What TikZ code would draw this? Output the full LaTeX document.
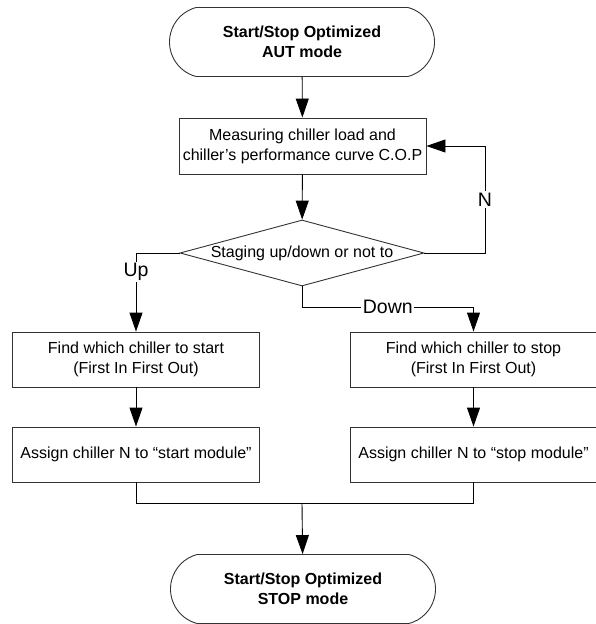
\documentclass[tikz,border=0pt]{standalone}
\usepackage{fontspec}
\setmainfont{Liberation Sans}
\usepackage{tikz}
\usetikzlibrary{shapes,shapes.geometric,arrows.meta,positioning,calc}

\begin{document}
\begin{tikzpicture}[x=1bp, y=-1bp,
    process/.style={draw=black!80, line width=0.9bp, rectangle, minimum width=247bp, minimum height=55bp, inner sep=0pt, align=center, font=\fontsize{16bp}{20bp}\selectfont},
    terminal/.style={draw=black!80, line width=0.9bp, rounded rectangle, rounded rectangle arc length=150, minimum width=265bp, minimum height=69bp, inner sep=0pt, align=center, font=\fontsize{16bp}{19.5bp}\selectfont\bfseries},
    decision/.style={draw=black!80, line width=0.9bp, diamond, aspect=3.7, minimum width=244bp, minimum height=66bp, inner sep=0pt, font=\fontsize{16bp}{20bp}\selectfont},
    arr/.style={-{Triangle[length=19bp, width=13bp]}, line width=0.9bp},
    lbl/.style={fill=white, inner sep=1.5bp, font=\fontsize{19.5bp}{20bp}\selectfont}]
    \useasboundingbox (0,0) rectangle (596,624);

    % Nodes
    \node[terminal] (start) at (302,42) {Start/Stop Optimized\\AUT mode};
    \node[process, minimum height=56bp] (measure) at (302.5,146) {Measuring chiller load and\\chiller’s performance curve C.O.P};
    \node[decision] (stage) at (302,253) {Staging up/down or not to};
    \node[process] (startfind) at (136,359.5) {Find which chiller to start\\(First In First Out)};
    \node[process] (startassign) at (136,454.5) {Assign chiller N to “start module”};
    \node[process, minimum width=246bp] (stopfind) at (473.5,359.5) {Find which chiller to stop\\(First In First Out)};
    \node[process, minimum width=246bp] (stopassign) at (473.5,454.5) {Assign chiller N to “stop module”};
    \node[terminal] (stop) at (303,589) {Start/Stop Optimized\\STOP mode};

    % Helper points
    \coordinate (loop) at (485,253);
    \coordinate (down) at (302,307);
    \coordinate (merge) at (302,503);

    % Arrows
    \draw[arr] (start) -- (measure);
    \draw[arr] (measure) -- (stage);
    \draw[arr] (stage.east) -- (loop) |- node[lbl, pos=0.25] {N} (measure.east);
    \draw[arr] (stage.west) -| node[lbl, pos=0.62] {Up} (startfind.north);
    \draw[arr] (stage.south) -- (down) -| node[lbl, pos=0.25] {Down} (stopfind.north);
    \draw[arr] (startfind) -- (startassign);
    \draw[arr] (stopfind) -- (stopassign);
    \draw[line width=0.9bp] (startassign.south) |- (merge);
    \draw[line width=0.9bp] (stopassign.south) |- (merge);
    \draw[arr] (merge) -- (stop);
\end{tikzpicture}
\end{document}
